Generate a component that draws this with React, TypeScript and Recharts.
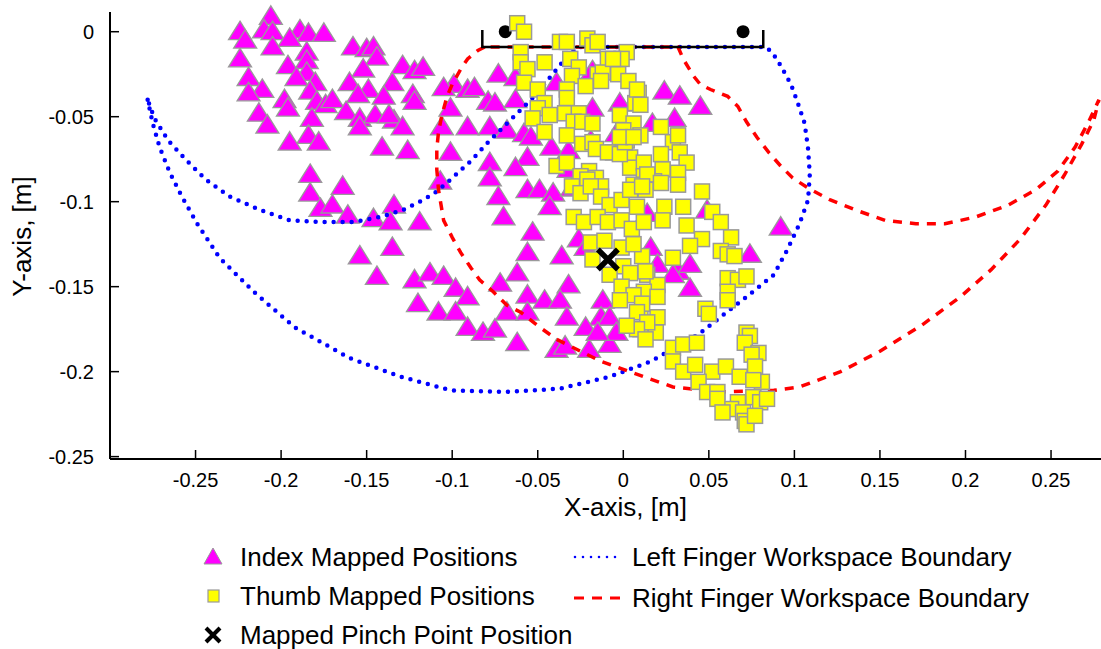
import { ScatterChart, Scatter, XAxis, YAxis } from 'recharts'

const FONT = '"Liberation Sans", Arial, Helvetica, sans-serif'

// [x, y] in metres
const indexPositions: [number, number][] = [
  [-0.206, 0.008], [-0.224, -0.001], [-0.210, 0.000], [-0.205, -0.001], [-0.221, -0.006], [-0.189, 0.000],
  [-0.184, -0.002], [-0.175, -0.002], [-0.195, -0.005], [-0.205, -0.010], [-0.224, -0.017], [-0.185, -0.013],
  [-0.185, -0.018], [-0.196, -0.021], [-0.219, -0.028], [-0.185, -0.025], [-0.191, -0.028], [-0.180, -0.031],
  [-0.211, -0.035], [-0.219, -0.037], [-0.183, -0.036], [-0.198, -0.041], [-0.179, -0.042], [-0.196, -0.046],
  [-0.213, -0.049], [-0.174, -0.044], [-0.170, -0.041], [-0.182, -0.052], [-0.208, -0.056], [-0.184, -0.062],
  [-0.195, -0.066], [-0.178, -0.066],
  [-0.158, -0.010], [-0.150, -0.011], [-0.146, -0.010], [-0.144, -0.016], [-0.152, -0.023], [-0.129, -0.021],
  [-0.122, -0.024], [-0.117, -0.022], [-0.160, -0.031], [-0.135, -0.031], [-0.149, -0.035], [-0.155, -0.038],
  [-0.140, -0.039], [-0.123, -0.038], [-0.122, -0.042], [-0.162, -0.048], [-0.154, -0.052], [-0.145, -0.050],
  [-0.134, -0.053], [-0.137, -0.050], [-0.154, -0.057], [-0.129, -0.057], [-0.141, -0.069], [-0.126, -0.071],
  [-0.099, -0.032], [-0.105, -0.034], [-0.091, -0.035], [-0.087, -0.034], [-0.079, -0.042], [-0.101, -0.046],
  [-0.106, -0.057], [-0.091, -0.057], [-0.101, -0.072], [-0.078, -0.078], [-0.107, -0.089], [-0.078, -0.087],
  [-0.183, -0.085], [-0.164, -0.092], [-0.183, -0.096], [-0.073, -0.026], [-0.075, -0.043], [-0.078, -0.057],
  [-0.177, -0.105], [-0.170, -0.103], [-0.161, -0.109], [-0.134, -0.103], [-0.146, -0.111], [-0.136, -0.113],
  [-0.119, -0.113], [-0.135, -0.128], [-0.154, -0.133], [-0.144, -0.145], [-0.122, -0.147], [-0.113, -0.143],
  [-0.105, -0.145], [-0.098, -0.152], [-0.091, -0.157], [-0.120, -0.161], [-0.108, -0.166], [-0.098, -0.166],
  [-0.091, -0.175], [-0.082, -0.178], [-0.075, -0.176],
  [-0.073, -0.098], [-0.056, -0.094], [-0.049, -0.094], [-0.041, -0.096], [-0.070, -0.110], [-0.043, -0.104],
  [-0.053, -0.119], [-0.056, -0.131], [-0.036, -0.133], [-0.062, -0.143], [-0.072, -0.149], [-0.056, -0.156],
  [-0.046, -0.159], [-0.032, -0.150], [-0.037, -0.159], [-0.068, -0.166], [-0.056, -0.166], [-0.033, -0.169],
  [-0.062, -0.184], [-0.039, -0.188], [-0.034, -0.186],
  [-0.012, -0.159], [-0.013, -0.169], [-0.008, -0.169], [-0.022, -0.175], [-0.020, -0.188], [-0.008, -0.185],
  [-0.004, -0.178], [-0.015, -0.178], [-0.026, -0.123], [-0.022, -0.128], [-0.030, -0.093],
  [-0.063, -0.028], [-0.063, -0.041], [-0.039, -0.031], [-0.018, -0.024], [-0.018, -0.046], [-0.002, -0.043],
  [-0.068, -0.059], [-0.058, -0.061], [-0.054, -0.063], [-0.042, -0.069], [-0.032, -0.071], [-0.056, -0.075],
  [-0.063, -0.081], [-0.032, -0.082], [-0.019, -0.065], [-0.004, -0.061],
  [0.024, -0.036], [0.033, -0.039], [0.045, -0.045], [0.017, -0.055], [0.030, -0.052],
  [0.014, -0.108], [0.049, -0.106], [0.092, -0.116], [0.074, -0.132], [0.016, -0.128], [0.020, -0.138],
  [0.032, -0.142], [0.039, -0.138], [0.039, -0.152], [0.029, -0.144],
]

const thumbPositions: [number, number][] = [
  [-0.062, 0.005], [-0.058, 0.000], [-0.037, -0.006], [-0.033, -0.006], [-0.021, -0.004], [-0.018, -0.008],
  [-0.015, -0.006], [0.002, -0.012], [-0.060, -0.012], [-0.060, -0.018], [-0.046, -0.018], [-0.031, -0.016],
  [-0.026, -0.021], [-0.009, -0.016], [-0.001, -0.016], [-0.056, -0.022], [-0.030, -0.026], [-0.015, -0.025],
  [-0.012, -0.024], [-0.003, -0.025], [0.003, -0.029], [-0.058, -0.030], [-0.050, -0.034], [-0.033, -0.034],
  [-0.022, -0.032], [-0.013, -0.029], [0.009, -0.036], [-0.033, -0.039], [-0.046, -0.042], [0.007, -0.042],
  [-0.050, -0.045], [-0.043, -0.049], [-0.034, -0.048], [-0.026, -0.048], [-0.053, -0.051], [-0.029, -0.053],
  [-0.024, -0.053], [-0.018, -0.054], [-0.002, -0.049], [0.006, -0.054], [0.000, -0.058], [-0.046, -0.059],
  [-0.033, -0.061], [-0.024, -0.066], [-0.018, -0.065], [-0.016, -0.069], [0.002, -0.064], [0.010, -0.061],
  [-0.006, -0.071], [0.004, -0.074], [0.004, -0.080], [-0.039, -0.079], [-0.033, -0.077], [0.012, -0.077],
  [-0.020, -0.082], [-0.025, -0.085], [-0.016, -0.086], [-0.030, -0.091], [-0.013, -0.091], [0.012, -0.085],
  [0.006, -0.090], [-0.009, -0.071], [-0.021, -0.087], [-0.002, -0.072], [0.001, -0.065], [-0.002, -0.062],
  [0.006, -0.062], [0.008, -0.034], [-0.006, -0.016], [0.022, -0.056], [0.029, -0.065], [0.032, -0.061],
  [0.033, -0.071], [0.037, -0.077], [0.022, -0.072], [0.023, -0.081], [0.032, -0.083], [0.018, -0.088],
  [0.046, -0.094], [0.010, -0.043], [0.014, -0.084], [0.022, -0.089], [0.032, -0.090],
  [0.013, -0.093], [0.024, -0.103], [0.035, -0.103], [0.052, -0.106], [0.057, -0.112], [0.023, -0.111],
  [0.037, -0.114], [0.046, -0.122], [0.063, -0.121], [0.039, -0.126], [0.057, -0.129], [0.061, -0.131],
  [0.065, -0.132], [0.029, -0.133], [0.011, -0.132], [0.014, -0.143], [0.020, -0.149], [0.012, -0.153],
  [0.061, -0.145], [0.067, -0.146], [0.072, -0.144], [0.061, -0.153], [0.061, -0.158], [0.048, -0.163],
  [0.050, -0.166], [0.020, -0.156], [0.010, -0.165], [0.020, -0.168], [0.019, -0.177], [0.010, -0.175],
  [0.029, -0.186], [0.035, -0.184], [0.043, -0.183], [0.029, -0.194], [0.035, -0.200], [0.042, -0.196],
  [0.052, -0.200], [0.044, -0.206], [0.049, -0.212], [0.055, -0.212], [0.060, -0.197], [0.068, -0.203],
  [0.072, -0.177], [0.074, -0.179], [0.071, -0.183], [0.079, -0.189], [0.075, -0.190], [0.077, -0.197],
  [0.081, -0.206], [0.076, -0.205], [0.076, -0.215], [0.080, -0.218], [0.084, -0.216], [0.067, -0.218],
  [0.063, -0.222], [0.070, -0.224], [0.071, -0.229], [0.072, -0.231], [0.077, -0.226], [0.055, -0.216],
  [0.058, -0.224],
  [-0.025, -0.095], [-0.019, -0.091], [-0.013, -0.097], [-0.008, -0.102], [-0.001, -0.099], [0.004, -0.093],
  [0.011, -0.091], [0.008, -0.103], [-0.029, -0.109], [-0.023, -0.112], [-0.015, -0.109], [-0.009, -0.112],
  [-0.001, -0.111], [0.005, -0.116], [0.012, -0.112], [-0.019, -0.124], [-0.011, -0.123], [-0.001, -0.127],
  [0.006, -0.125], [-0.018, -0.134], [0.000, -0.138], [-0.008, -0.143], [0.004, -0.142], [0.013, -0.141],
  [-0.001, -0.150], [0.006, -0.155], [-0.002, -0.158], [0.011, -0.160], [0.008, -0.165], [0.014, -0.171],
  [0.008, -0.175], [0.013, -0.181], [0.002, -0.173],
]

const pinchPoint: [number, number][] = [[-0.009, -0.134]]

const leftBoundary: [number, number][] = [
  [-0.278, -0.040], [-0.275, -0.054], [-0.271, -0.068], [-0.265, -0.083], [-0.258, -0.097], [-0.249, -0.113],
  [-0.236, -0.133], [-0.216, -0.153], [-0.192, -0.174], [-0.160, -0.192], [-0.130, -0.203], [-0.101, -0.211],
  [-0.069, -0.212], [-0.037, -0.210], [-0.008, -0.203], [0.016, -0.194], [0.044, -0.178], [0.072, -0.156],
  [0.088, -0.143], [0.096, -0.128], [0.103, -0.113], [0.108, -0.099], [0.109, -0.084], [0.108, -0.069],
  [0.106, -0.054], [0.102, -0.042], [0.098, -0.031], [0.092, -0.020], [0.087, -0.012], [0.083, -0.009],
  [-0.027, -0.009], [-0.034, -0.016], [-0.043, -0.027], [-0.051, -0.037], [-0.061, -0.047], [-0.070, -0.056],
  [-0.079, -0.065], [-0.089, -0.076], [-0.101, -0.087], [-0.109, -0.094], [-0.117, -0.099], [-0.129, -0.105],
  [-0.142, -0.109], [-0.158, -0.112], [-0.177, -0.112], [-0.195, -0.111], [-0.212, -0.105], [-0.230, -0.097],
  [-0.244, -0.087], [-0.256, -0.075], [-0.266, -0.064], [-0.274, -0.051], [-0.278, -0.040],
]

const rightBoundary: [number, number][] = [
  [-0.081, -0.009], [-0.085, -0.011], [-0.091, -0.016], [-0.095, -0.022], [-0.100, -0.031], [-0.103, -0.038],
  [-0.106, -0.049], [-0.108, -0.059], [-0.109, -0.069], [-0.109, -0.081], [-0.108, -0.093], [-0.105, -0.111],
  [-0.100, -0.121], [-0.095, -0.130], [-0.089, -0.139], [-0.084, -0.146], [-0.076, -0.153], [-0.068, -0.161],
  [-0.060, -0.165], [-0.050, -0.173], [-0.039, -0.181], [-0.013, -0.194], [0.012, -0.203], [0.029, -0.209],
  [0.057, -0.212], [0.088, -0.211], [0.103, -0.209], [0.127, -0.200], [0.150, -0.188], [0.174, -0.173],
  [0.197, -0.156], [0.215, -0.140], [0.232, -0.122], [0.247, -0.102], [0.258, -0.084], [0.268, -0.066],
  [0.275, -0.052], [0.278, -0.040], [0.272, -0.053], [0.264, -0.068], [0.254, -0.082], [0.241, -0.093],
  [0.225, -0.102], [0.206, -0.109], [0.188, -0.113], [0.171, -0.113], [0.153, -0.111], [0.136, -0.105],
  [0.121, -0.099], [0.108, -0.092], [0.099, -0.086], [0.092, -0.079], [0.085, -0.071], [0.078, -0.062],
  [0.072, -0.053], [0.067, -0.044], [0.061, -0.038], [0.051, -0.034], [0.045, -0.031], [0.041, -0.026],
  [0.035, -0.016], [0.032, -0.009], [-0.081, -0.009],
]

const gripperBar: [number, number][] = [[-0.0824, 0.001], [-0.0824, -0.009], [0.0818, -0.009], [0.0818, 0.001]]
const gripperTips: [number, number][] = [[-0.069, 0.0], [0.070, 0.0]]

const xTicks = [-0.25, -0.2, -0.15, -0.1, -0.05, 0, 0.05, 0.1, 0.15, 0.2, 0.25]
const yTicks = [0, -0.05, -0.1, -0.15, -0.2, -0.25]

const toPts = (arr: [number, number][]) => arr.map(([x, y]) => ({ x, y }))
const fmt = (v: number) => String(Number(v.toFixed(2)))

const Triangle = ({ cx, cy }: any) => (
  <polygon
    points={`${cx},${cy - 12.3} ${cx + 11.5},${cy + 6.2} ${cx - 11.5},${cy + 6.2}`}
    fill="#FF00FF" stroke="#9a9a9a" strokeWidth={1.3}
  />
)
const Square = ({ cx, cy }: any) => (
  <rect x={cx - 7.5} y={cy - 7.5} width={15} height={15} fill="#FFFF00" stroke="#9a9a9a" strokeWidth={1.5} />
)
const Cross = ({ cx, cy }: any) => (
  <g stroke="#000" strokeWidth={5.5}>
    <line x1={cx - 10} y1={cy - 10} x2={cx + 10} y2={cy + 10} />
    <line x1={cx - 10} y1={cy + 10} x2={cx + 10} y2={cy - 10} />
  </g>
)
const Dot = ({ cx, cy }: any) => <circle cx={cx} cy={cy} r={6.5} fill="#000" />
const NoMarker = () => <g />

const LegendRow = ({ left, top, icon, text }: { left: number; top: number; icon: any; text: string }) => (
  <div style={{ position: 'absolute', left, top, height: 30, display: 'flex', alignItems: 'center', whiteSpace: 'nowrap' }}>
    {icon}
    <span style={{ fontFamily: FONT, fontSize: 26, color: '#000' }}>{text}</span>
  </div>
)

export default function App() {
  return (
    <div style={{ position: 'absolute', left: 0, top: 0, width: 1101, height: 649, background: '#fff' }}>
      <ScatterChart width={1101} height={649} margin={{ top: 12, right: 0, bottom: 130, left: 0 }}>
        <XAxis
          type="number" dataKey="x" domain={[-0.3, 0.2792]} ticks={xTicks} interval={0}
          tickFormatter={fmt} tickSize={-9} tickMargin={23} height={60}
          axisLine={{ stroke: '#000', strokeWidth: 2 }}
          tickLine={{ stroke: '#000', strokeWidth: 1.5 }}
          tick={{ fill: '#000', fontSize: 20, fontFamily: FONT }}
          label={{
            content: ({ viewBox }: any) => (
              <text x={viewBox.x + viewBox.width / 2 + 20} y={viewBox.y + 57} textAnchor="middle"
                fontSize={26} fontFamily={FONT} fill="#000">X-axis, [m]</text>
            ),
          }}
        />
        <YAxis
          type="number" dataKey="y" domain={[-0.2514, 0.0116]} ticks={yTicks} interval={0}
          tickFormatter={fmt} tickSize={-9} tickMargin={25} width={110}
          axisLine={{ stroke: '#000', strokeWidth: 2 }}
          tickLine={{ stroke: '#000', strokeWidth: 1.5 }}
          tick={{ fill: '#000', fontSize: 20, fontFamily: FONT }}
          label={{
            content: ({ viewBox }: any) => {
              const cy = viewBox.y + viewBox.height / 2 + 1
              return (
                <text x={31} y={cy} transform={`rotate(-90, 31, ${cy})`} textAnchor="middle"
                  fontSize={26} fontFamily={FONT} fill="#000">Y-axis, [m]</text>
              )
            },
          }}
        />
        <Scatter name="Index Mapped Positions" data={toPts(indexPositions)} shape={Triangle} isAnimationActive={false} />
        <Scatter
          name="Left Finger Workspace Boundary" data={toPts(leftBoundary)} shape={NoMarker} isAnimationActive={false}
          line={{ stroke: '#0000FF', strokeWidth: 4.5, strokeDasharray: '0 9', strokeLinecap: 'round' } as any}
        />
        <Scatter
          name="Right Finger Workspace Boundary" data={toPts(rightBoundary)} shape={NoMarker} isAnimationActive={false}
          line={{ stroke: '#FF0000', strokeWidth: 3.5, strokeDasharray: '9 8' } as any}
        />
        <Scatter
          data={toPts(gripperBar)} shape={NoMarker} isAnimationActive={false}
          line={{ stroke: '#000', strokeWidth: 2.5 } as any}
        />
        <Scatter data={toPts(gripperTips)} shape={Dot} isAnimationActive={false} />
        <Scatter name="Thumb Mapped Positions" data={toPts(thumbPositions)} shape={Square} isAnimationActive={false} />
        <Scatter name="Mapped Pinch Point Position" data={toPts(pinchPoint)} shape={Cross} isAnimationActive={false} />
      </ScatterChart>

      <LegendRow left={201} top={542} text="Index Mapped Positions"
        icon={<svg width={39} height={22}><polygon points="12,2 21,18 3,18" fill="#FF00FF" stroke="#9a9a9a" strokeWidth={1} /></svg>} />
      <LegendRow left={201} top={581} text="Thumb Mapped Positions"
        icon={<svg width={39} height={22}><rect x={7} y={5} width={11} height={12} fill="#FFFF00" stroke="#9a9a9a" strokeWidth={1.2} /></svg>} />
      <LegendRow left={201} top={620} text="Mapped Pinch Point Position"
        icon={<svg width={39} height={22}><g stroke="#000" strokeWidth={4}><line x1={5} y1={4} x2={19} y2={18} /><line x1={5} y1={18} x2={19} y2={4} /></g></svg>} />
      <LegendRow left={571} top={542} text="Left Finger Workspace Boundary"
        icon={<svg width={61} height={22}><line x1={4} y1={11} x2={50} y2={11} stroke="#0000FF" strokeWidth={2.6} strokeDasharray="0 8" strokeLinecap="round" /></svg>} />
      <LegendRow left={571} top={583} text="Right Finger Workspace Boundary"
        icon={<svg width={61} height={22}><line x1={3} y1={11} x2={50} y2={11} stroke="#FF0000" strokeWidth={3} strokeDasharray="10 8" /></svg>} />
    </div>
  )
}
